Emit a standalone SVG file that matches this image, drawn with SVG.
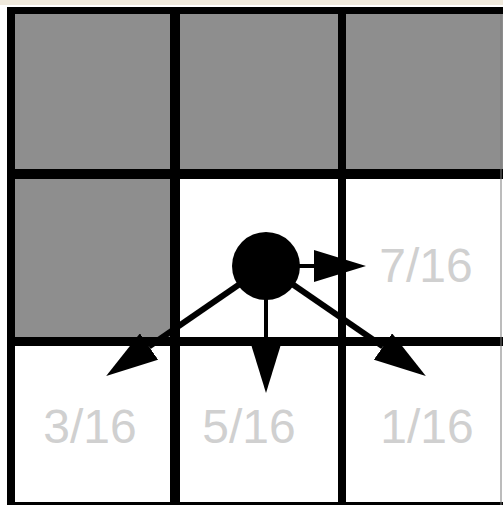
<svg xmlns="http://www.w3.org/2000/svg" width="503" height="505" viewBox="0 0 503 505">
<style>
.cell{fill:#8e8e8e}
.grid{fill:#000}
.lbl{font-family:"Liberation Sans",Arial,sans-serif;font-size:48px;fill:#d0d0d0;text-anchor:middle}
.arr{stroke:#000;fill:none;stroke-linecap:butt}
</style>
<defs>
<marker id="head" markerUnits="userSpaceOnUse" viewBox="0 0 52 32" refX="0" refY="16" markerWidth="52" markerHeight="32" orient="auto">
<path d="M0,0 L52,16 L0,32 z" fill="#000"/>
</marker>
</defs>
<rect x="0" y="0" width="503" height="505" fill="#fff"/>
<rect x="0" y="0" width="503" height="5" fill="#efe9dc"/>
<g id="cells">
<rect class="cell" x="14" y="14" width="156" height="155"/>
<rect class="cell" x="180" y="14" width="158" height="155"/>
<rect class="cell" x="346" y="14" width="157" height="155"/>
<rect class="cell" x="14" y="179" width="156" height="158"/>
</g>
<g id="grid">
<rect class="grid" x="7" y="7" width="496" height="7"/>
<rect class="grid" x="7" y="169" width="496" height="10"/>
<rect class="grid" x="7" y="337" width="496" height="9"/>
<rect class="grid" x="7" y="502" width="496" height="3"/>
<rect class="grid" x="7" y="7" width="8" height="498"/>
<rect class="grid" x="170" y="7" width="10" height="498"/>
<rect class="grid" x="338" y="7" width="8" height="498"/>
<rect x="500" y="14" width="2" height="491" fill="#7a7a7a" opacity="0.5"/>
</g>
<g id="labels">
<text id="l7" class="lbl" x="426" y="282">7/16</text>
<text id="l3" class="lbl" x="90" y="443">3/16</text>
<text id="l5" class="lbl" x="249" y="443">5/16</text>
<text id="l1" class="lbl" x="427" y="443">1/16</text>
</g>
<g id="connectors">
<line class="arr" x1="290" y1="266" x2="314" y2="266" stroke-width="4" marker-end="url(#head)"/>
<line class="arr" x1="266" y1="290" x2="266" y2="341" stroke-width="4" marker-end="url(#head)"/>
<line class="arr" x1="266" y1="266" x2="149" y2="346.5" stroke-width="6" marker-end="url(#head)"/>
<line class="arr" x1="266" y1="266" x2="383" y2="346.5" stroke-width="6" marker-end="url(#head)"/>
</g>
<g id="pixel">
<circle cx="266" cy="266" r="34" fill="#000"/>
</g>
</svg>
